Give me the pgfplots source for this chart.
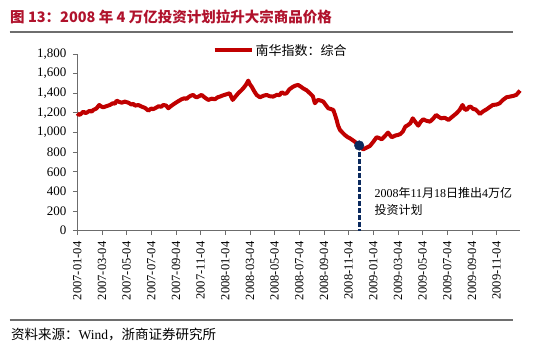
\documentclass[border=0pt]{standalone}
\usepackage{pgfplots}
\pgfplotsset{compat=1.18}
\usepackage{fontspec}
\setmainfont{Liberation Serif}
\newfontfamily\cjk{Noto Sans CJK SC}
\definecolor{linered}{HTML}{C00000}
\definecolor{navy}{HTML}{0B2A5E}
\definecolor{titlered}{HTML}{B0122C}
\definecolor{rulegray}{HTML}{6E6E6E}
\pgfplotstableread{
m v
0 1196
0.12 1180
0.25 1185
0.38 1200
0.5 1213
0.65 1198
0.8 1205
1.0 1222
1.15 1212
1.3 1230
1.55 1245
1.78 1281
1.9 1268
2.0 1262
2.1 1257
2.4 1270
2.65 1281
2.9 1300
3.05 1292
3.19 1325
3.4 1312
3.6 1304
3.85 1315
4.14 1304
4.4 1285
4.55 1292
4.68 1274
4.95 1280
5.22 1264
5.5 1250
5.76 1223
6.0 1245
6.15 1238
6.3 1247
6.6 1268
6.8 1262
6.97 1281
7.2 1275
7.38 1247
7.6 1270
7.92 1298
8.2 1320
8.46 1339
8.7 1350
8.85 1342
9.0 1359
9.2 1375
9.4 1383
9.55 1365
9.7 1359
10.08 1383
10.3 1360
10.62 1332
10.9 1345
11.16 1339
11.4 1360
11.57 1366
11.85 1380
12.11 1390
12.35 1400
12.6 1332
12.85 1370
13.05 1400
13.3 1430
13.46 1451
13.7 1490
13.86 1529
14.0 1490
14.14 1467
14.35 1420
14.54 1383
14.81 1359
15.1 1375
15.35 1383
15.6 1370
15.89 1366
16.2 1385
16.4 1380
16.57 1410
16.8 1395
16.97 1400
17.2 1440
17.5 1467
17.7 1478
17.9 1485
18.1 1470
18.3 1451
18.6 1430
18.86 1400
19.1 1370
19.27 1298
19.4 1320
19.54 1332
19.75 1325
19.95 1315
20.15 1280
20.35 1247
20.55 1240
20.76 1230
20.9 1180
21.03 1128
21.15 1070
21.3 1026
21.5 1000
21.7 975
21.9 955
22.1 942
22.3 925
22.5 907
22.7 885
22.86 868
23.0 845
23.19 829
23.45 845
23.73 863
24.0 905
24.27 952
24.45 945
24.68 931
24.95 965
25.2 999
25.35 975
25.5 952
25.8 970
26.0 975
26.2 985
26.4 1010
26.6 1060
26.8 1075
27.0 1094
27.2 1145
27.4 1110
27.65 1070
27.85 1110
28.05 1135
28.3 1120
28.6 1111
28.85 1140
29.1 1179
29.3 1160
29.5 1145
29.8 1150
30.1 1128
30.4 1160
30.75 1196
31.0 1230
31.24 1281
31.4 1240
31.57 1230
31.75 1260
31.9 1264
32.1 1240
32.3 1235
32.5 1210
32.65 1189
32.9 1215
33.2 1237
33.45 1260
33.7 1281
34.0 1285
34.25 1298
34.5 1330
34.8 1359
35.05 1365
35.35 1373
35.6 1383
35.9 1427
}\nanhua
\begin{document}
\begin{tikzpicture}[x=1pt,y=1pt]
\useasboundingbox (0,0) rectangle (550,352);
\node[anchor=west, inner sep=0pt, text=titlered, font=\cjk\bfseries\fontsize{14.5}{16}\selectfont] at (10,335) {图 13：2008 年 4 万亿投资计划拉升大宗商品价格};
\draw[rulegray, line width=2pt] (9.5,319.5) -- (513,319.5);
\draw[rulegray, line width=2pt] (9.5,32) -- (513,32);
\node[anchor=west, inner sep=0pt, font=\fontsize{13.5}{15}\selectfont] at (11,17) {{\cjk 资料来源：}Wind{\cjk ，浙商证券研究所}};
\begin{axis}[
  at={(77.3pt,121.3pt)}, anchor=south west,
  scale only axis, width=442.7pt, height=176.7pt,
  xmin=0, xmax=35.9, ymin=0, ymax=1800,
  axis x line=bottom, axis y line=left,
  axis line style={-, draw=gray!85!black, line width=0.8pt},
  tick style={draw=gray!85!black, line width=0.8pt},
  tick align=outside, major tick length=4.5pt,
  ytick={0,200,...,1800},
  xtick={0,2,...,34},
  xticklabels={2007-01-04,2007-03-04,2007-05-04,2007-07-04,2007-09-04,2007-11-04,2008-01-04,2008-03-04,2008-05-04,2008-07-04,2008-09-04,2008-11-04,2009-01-04,2009-03-04,2009-05-04,2009-07-04,2009-09-04,2009-11-04},
  /pgf/number format/assume math mode=true,
  /pgf/number format/1000 sep={,},
  yticklabel style={font=\fontsize{13}{13}\selectfont, anchor=east, xshift=-3pt},
  xticklabel style={font=\fontsize{12.5}{13}\selectfont, rotate=90, anchor=east, yshift=0pt, xshift=-3pt},
  legend style={at={(0.305,1.02)}, anchor=west, draw=none, fill=none, font=\cjk\fontsize{13}{13}\selectfont, inner sep=0pt},
  legend image code/.code={\draw[#1, line width=4pt] (0pt,0pt) -- (37pt,0pt);},
  clip=false,
]
\addplot[linered, line width=4pt, line join=round] table[x=m, y=v] {\nanhua};
\addlegendentry{南华指数：综合}
\addplot[navy, line width=3pt, dash pattern=on 5pt off 2pt, forget plot] coordinates {(22.86,868) (22.86,0)};
\addplot[only marks, mark=*, mark size=4.8pt, navy, forget plot] coordinates {(22.86,868)};
\node[anchor=west, inner sep=0pt, font=\fontsize{12}{13}\selectfont] at (axis cs:24.1,384) {2008{\cjk 年}11{\cjk 月}18{\cjk 日推出}4{\cjk 万亿}};
\node[anchor=west, inner sep=0pt, font=\cjk\fontsize{12}{13}\selectfont] at (axis cs:24.1,211) {投资计划};
\end{axis}
\end{tikzpicture}
\end{document}
